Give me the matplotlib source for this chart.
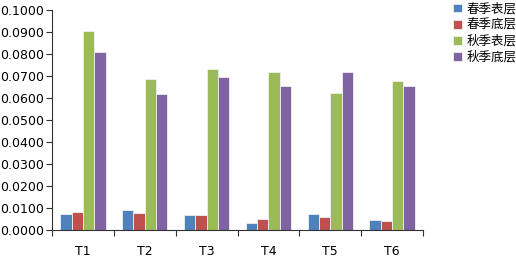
import matplotlib
matplotlib.use("Agg")
import matplotlib.pyplot as plt
import numpy as np

categories = ["T1", "T2", "T3", "T4", "T5", "T6"]
series_names = ["春季表层", "春季底层", "秋季表层", "秋季底层"]
spring_surface = [0.0073, 0.0091, 0.0070, 0.0030, 0.0073, 0.0045]
spring_bottom = [0.0080, 0.0076, 0.0067, 0.0052, 0.0059, 0.0042]
autumn_surface = [0.0906, 0.0686, 0.0730, 0.0720, 0.0621, 0.0676]
autumn_bottom = [0.0808, 0.0620, 0.0697, 0.0655, 0.0720, 0.0655]
colors = ["#4F81BD", "#C0504D", "#9BBB59", "#8064A2"]

plt.rcParams['font.family'] = ['DejaVu Sans', 'Noto Sans CJK SC']

fig = plt.figure(figsize=(5.16, 2.57), dpi=100)
ax = fig.add_axes([0.1008, 0.105, 0.719, 0.856])

x = np.arange(len(categories))
w = 0.183
data = [spring_surface, spring_bottom, autumn_surface, autumn_bottom]
for i, (vals, c, name) in enumerate(zip(data, colors, series_names)):
    ax.bar(x + (i - 1.5) * w, vals, width=w, color=c, edgecolor="#f0f0f0",
           linewidth=0.6, label=name)

ax.set_xlim(-0.5, len(categories) - 0.5)
ax.set_ylim(0, 0.1)
ax.set_yticks(np.arange(0, 0.1001, 0.01))
ax.set_yticklabels([f"{v:.4f}" for v in np.arange(0, 0.1001, 0.01)], fontsize=9)
ax.set_xticks(x)
ax.set_xticklabels(categories, fontsize=9)
ax.set_xticks(np.arange(-0.5, len(categories)), minor=True)
ax.tick_params(axis='x', which='major', length=0, pad=10.5)
ax.tick_params(axis='x', which='minor', length=4, width=0.8, color="#333333")
ax.tick_params(axis='y', length=4, width=0.8, color="#333333", pad=2)
for s in ["top", "right"]:
    ax.spines[s].set_visible(False)
for s in ["left", "bottom"]:
    ax.spines[s].set_color("#333333")
    ax.spines[s].set_linewidth(0.8)

leg = fig.legend(loc="upper left", bbox_to_anchor=(0.868, 1.01), frameon=False,
                 prop={'family': ['Noto Sans CJK SC'], 'size': 9},
                 handlelength=0.7, handleheight=0.7, handletextpad=0.4,
                 labelspacing=0.25, borderaxespad=0)

fig.savefig("out.png", dpi=100)
